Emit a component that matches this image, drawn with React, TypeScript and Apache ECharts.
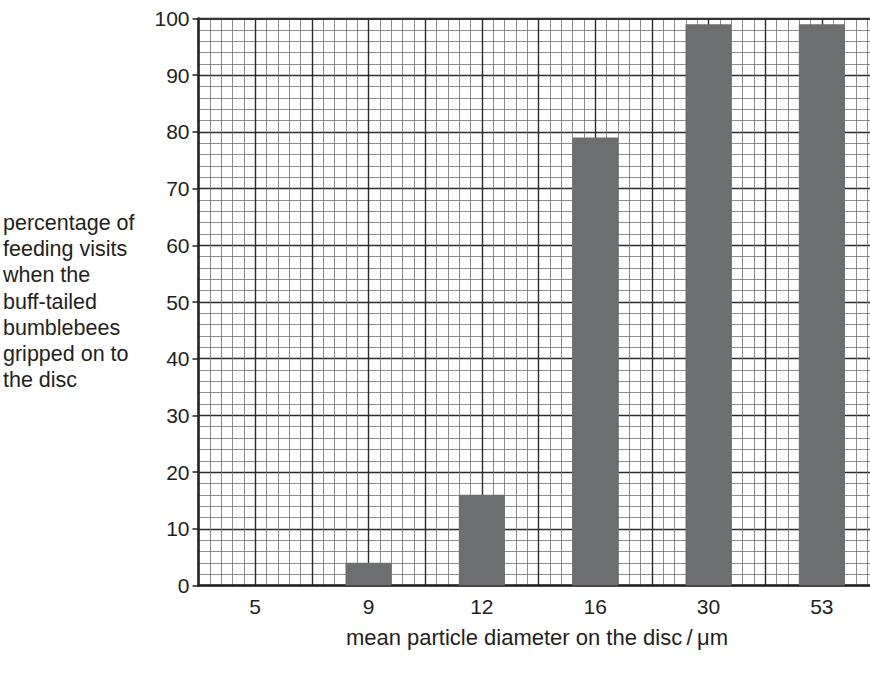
import React, { useEffect, useRef } from 'react';
import * as echarts from 'echarts';

const diameters = ['5', '9', '12', '16', '30', '53'];
const gripPercent = [0, 4, 16, 79, 99, 99];
const yTicks = { min: 0, max: 100, interval: 10 };
const yTitleLines = [
  'percentage of',
  'feeding visits',
  'when the',
  'buff-tailed',
  'bumblebees',
  'gripped on to',
  'the disc',
];
const xTitle = 'mean particle diameter on the disc\u2009/\u2009\u03bcm';

const FONT = '"Liberation Sans", Arial, Helvetica, sans-serif';
const INK = '#231f20';

const App: React.FC = () => {
  const chartRef = useRef<HTMLDivElement>(null);

  useEffect(() => {
    if (!chartRef.current) return;
    const chart = echarts.init(chartRef.current, undefined, { renderer: 'svg' });

    const option = {
      animation: false,
      // the graph paper runs past the right edge of the page, so no outer bounds
      grid: { left: 198.5, top: 18.5, width: 680, height: 567, outerBoundsMode: 'none' },
      xAxis: [
        {
          type: 'category',
          data: diameters,
          position: 'bottom',
          axisLine: { show: true, lineStyle: { color: INK, width: 2.5 } },
          axisTick: { show: false },
          axisLabel: { color: INK, fontSize: 21, fontFamily: FONT, margin: 10 },
          splitLine: { show: false },
        },
        {
          // graph paper in x direction
          type: 'value',
          min: 0,
          max: 12,
          interval: 1,
          position: 'top',
          axisLine: { show: true, lineStyle: { color: '#333', width: 2 } },
          axisTick: { show: false },
          axisLabel: { show: false },
          splitLine: { show: true, lineStyle: { color: '#2b2b2b', width: 1.4 } },
          minorTick: { show: false, splitNumber: 5 },
          minorSplitLine: { show: true, lineStyle: { color: '#707070', width: 0.8 } },
        },
      ],
      yAxis: {
        type: 'value',
        min: yTicks.min,
        max: yTicks.max,
        interval: yTicks.interval,
        axisLine: { show: true, lineStyle: { color: INK, width: 2.5 } },
        axisTick: { show: true, length: 6, lineStyle: { color: INK, width: 1.5 } },
        axisLabel: { color: INK, fontSize: 21, fontFamily: FONT, margin: 9 },
        splitLine: { show: true, lineStyle: { color: '#2b2b2b', width: 1.4 } },
        minorTick: { show: false, splitNumber: 5 },
        minorSplitLine: { show: true, lineStyle: { color: '#707070', width: 0.8 } },
      },
      graphic: [
        {
          type: 'text',
          left: 3,
          top: 209.5,
          style: {
            text: yTitleLines.join('\n'),
            fill: INK,
            font: `21.5px ${FONT}`,
            lineHeight: 26.3,
          },
        },
        {
          type: 'text',
          x: 537,
          y: 637,
          style: {
            text: xTitle,
            fill: INK,
            font: `22px ${FONT}`,
            align: 'center',
            verticalAlign: 'middle',
          },
        },
      ],
      series: [
        {
          type: 'bar',
          xAxisIndex: 0,
          data: gripPercent,
          barWidth: 46,
          itemStyle: { color: '#6d6e70' },
        },
      ],
    };

    chart.setOption(option);
    return () => chart.dispose();
  }, []);

  return (
    <div
      ref={chartRef}
      style={{ position: 'absolute', left: 0, top: 0, width: 870, height: 691, background: '#fff' }}
    />
  );
};

export default App;
